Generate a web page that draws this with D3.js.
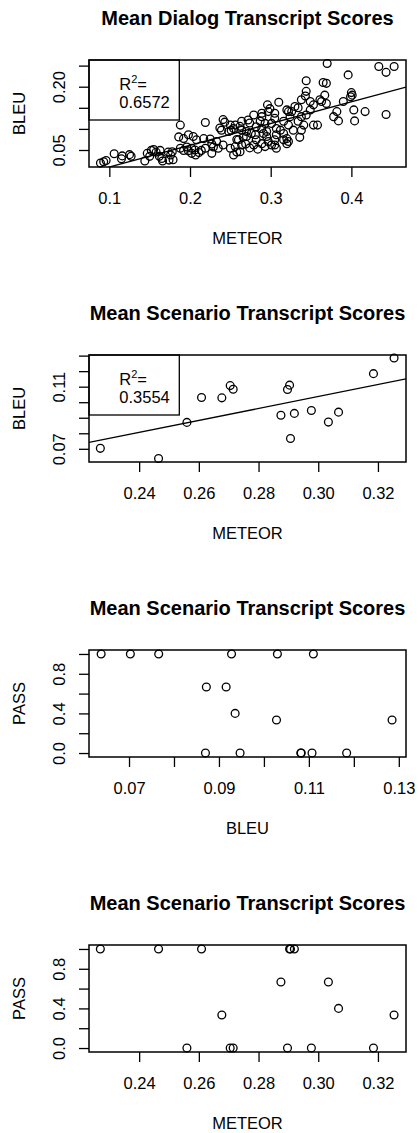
<!DOCTYPE html>
<html>
<head>
<meta charset="utf-8">
<script src="https://cdn.jsdelivr.net/npm/d3@7"></script>
<style>
  body { margin: 0; background: #fff; }
  text { font-family: "Liberation Sans", Arial, Helvetica, sans-serif; fill: #000; }
</style>
</head>
<body>
<div id="chart"></div>
<script>
// dialog means: [METEOR, BLEU]
const dialogPoints = [
  [0.089,0.019],[0.093,0.022],[0.096,0.025],[0.106,0.041],[0.115,0.029],[0.116,0.036],[0.125,0.039],[0.127,0.035],
  [0.144,0.024],[0.147,0.042],[0.150,0.035],[0.152,0.049],[0.155,0.051],[0.158,0.045],[0.162,0.035],[0.163,0.049],
  [0.165,0.030],[0.166,0.024],[0.173,0.045],[0.176,0.038],[0.174,0.026],[0.179,0.027],[0.178,0.046],
  [0.188,0.109],[0.186,0.081],[0.192,0.077],[0.198,0.086],[0.204,0.082],[0.208,0.074],[0.188,0.054],[0.192,0.049],
  [0.196,0.057],[0.198,0.048],[0.202,0.054],[0.202,0.042],[0.206,0.050],[0.207,0.038],[0.211,0.044],[0.214,0.049],
  [0.217,0.077],[0.219,0.054],[0.219,0.115],[0.225,0.076],[0.227,0.064],[0.229,0.057],[0.233,0.070],[0.235,0.054],
  [0.227,0.042],[0.241,0.062],[0.250,0.054],[0.256,0.058],[0.258,0.045],[0.254,0.038],[0.237,0.102],[0.239,0.097],
  [0.241,0.122],[0.243,0.116],[0.250,0.109],[0.254,0.101],[0.248,0.094],
  [0.262,0.106],[0.264,0.097],[0.260,0.074],[0.264,0.062],[0.262,0.046],[0.270,0.082],[0.274,0.114],[0.272,0.121],
  [0.279,0.133],[0.281,0.086],[0.282,0.074],[0.279,0.062],[0.289,0.129],[0.287,0.118],[0.293,0.113],[0.291,0.089],
  [0.295,0.082],[0.297,0.070],[0.301,0.062],[0.305,0.074],[0.307,0.086],[0.312,0.097],[0.316,0.089],[0.320,0.077],
  [0.322,0.070],[0.296,0.157],[0.299,0.148],[0.297,0.141],[0.305,0.137],[0.310,0.163],[0.320,0.145],[0.324,0.129],
  [0.316,0.118],[0.330,0.153],[0.322,0.141],[0.326,0.141],[0.322,0.109],[0.328,0.097],[0.305,0.125],[0.301,0.113],
  [0.307,0.101],[0.289,0.101],[0.295,0.094],[0.266,0.080],[0.258,0.075],[0.289,0.065],[0.293,0.058],[0.305,0.062],
  [0.307,0.054],[0.316,0.074],[0.320,0.065],[0.338,0.097],[0.336,0.080],[0.251,0.097],[0.256,0.109],[0.264,0.118],
  [0.270,0.094],[0.276,0.089],[0.289,0.137],[0.282,0.105],[0.284,0.052],[0.274,0.055],[0.269,0.064],
  [0.344,0.214],[0.365,0.210],[0.369,0.208],[0.370,0.255],[0.344,0.189],[0.367,0.180],[0.361,0.169],[0.363,0.165],
  [0.369,0.160],[0.338,0.169],[0.349,0.165],[0.353,0.157],[0.338,0.129],[0.334,0.118],[0.341,0.109],[0.353,0.109],
  [0.358,0.109],[0.349,0.145],[0.344,0.133],[0.382,0.141],[0.378,0.129],[0.384,0.119],[0.390,0.165],[0.396,0.228],
  [0.334,0.150],[0.343,0.178],
  [0.400,0.186],[0.401,0.180],[0.399,0.176],[0.403,0.145],[0.417,0.141],[0.404,0.119],[0.443,0.134],[0.434,0.248],
  [0.443,0.234],[0.453,0.248]
];

// scenario means
const scenarioMeteor = [0.2270, 0.2465, 0.2609, 0.2904, 0.2907, 0.2920, 0.2875, 0.3034, 0.2677,
                        0.3254, 0.3068, 0.2560, 0.2705, 0.2715, 0.2897, 0.2977, 0.3185];
const scenarioBleu   = [0.0703, 0.0638, 0.1030, 0.1110, 0.0766, 0.0928, 0.0916, 0.0872, 0.1028,
                        0.1285, 0.0936, 0.0870, 0.1107, 0.1083, 0.1082, 0.0947, 0.1184];
const scenarioPass   = [1, 1, 1, 1, 1, 1, 0.667, 0.667, 0.333, 0.333, 0.4, 0, 0, 0, 0, 0, 0];

// axis ranges and ticks
const dialogXDomain = [0.0748, 0.4677];
const dialogYDomain = [0.0097, 0.2633];
const scenMeteorDomain = [0.2232, 0.3294];
const scenBleuDomain = [0.0615, 0.1304];
const bleuXDomain = [0.0611, 0.1316];
const passDomain = [-0.04, 1.04];

const dialogXTicks = [0.1, 0.2, 0.3, 0.4];
const dialogXLabels = ["0.1", "0.2", "0.3", "0.4"];
const dialogYTicks = [0.05, 0.10, 0.15, 0.20, 0.25];
const dialogYLabels = ["0.05", "0.20"];
const meteorTicks = [0.24, 0.26, 0.28, 0.30, 0.32];
const meteorLabels = ["0.24", "0.26", "0.28", "0.30", "0.32"];
const bleuTicks = [0.07, 0.08, 0.09, 0.10, 0.11, 0.12, 0.13];
const bleuYLabels = ["0.07", "0.11"];
const bleuXLabels = ["0.07", "0.09", "0.11", "0.13"];
const passTicks = [0, 0.2, 0.4, 0.6, 0.8, 1.0];
const passLabels = ["0.0", "0.4", "0.8"];

// fitted lines [intercept, slope] and R squared
const dialogFit = [-0.0419, 0.5156];
const scenarioFit = [-0.0119, 0.3852];
const dialogR2 = "0.6572";
const scenarioR2 = "0.3554";

// layout
const W = 418, H = 1133;
const box = { left: 89, right: 406, height: 107, top0: 60, step: 295 };
const fontSize = 16.5;

const svg = d3.select("#chart").append("svg")
  .attr("width", W)
  .attr("height", H);
svg.append("rect").attr("width", W).attr("height", H).attr("fill", "#fff");

const panels = [
  { title: "Mean Dialog Transcript Scores", xLab: "METEOR", yLab: "BLEU",
    xs: dialogPoints.map(d => d[0]), ys: dialogPoints.map(d => d[1]),
    xDomain: dialogXDomain, yDomain: dialogYDomain,
    xTicks: dialogXTicks, xLabels: dialogXLabels, xFmt: ".1f",
    yTicks: dialogYTicks, yLabels: dialogYLabels, yFmt: ".2f",
    fit: dialogFit, r2: dialogR2 },
  { title: "Mean Scenario Transcript Scores", xLab: "METEOR", yLab: "BLEU",
    xs: scenarioMeteor, ys: scenarioBleu,
    xDomain: scenMeteorDomain, yDomain: scenBleuDomain,
    xTicks: meteorTicks, xLabels: meteorLabels, xFmt: ".2f",
    yTicks: bleuTicks, yLabels: bleuYLabels, yFmt: ".2f",
    fit: scenarioFit, r2: scenarioR2 },
  { title: "Mean Scenario Transcript Scores", xLab: "BLEU", yLab: "PASS",
    xs: scenarioBleu, ys: scenarioPass,
    xDomain: bleuXDomain, yDomain: passDomain,
    xTicks: bleuTicks, xLabels: bleuXLabels, xFmt: ".2f",
    yTicks: passTicks, yLabels: passLabels, yFmt: ".1f" },
  { title: "Mean Scenario Transcript Scores", xLab: "METEOR", yLab: "PASS",
    xs: scenarioMeteor, ys: scenarioPass,
    xDomain: scenMeteorDomain, yDomain: passDomain,
    xTicks: meteorTicks, xLabels: meteorLabels, xFmt: ".2f",
    yTicks: passTicks, yLabels: passLabels, yFmt: ".1f" }
];

panels.forEach(function(p, i) {
  const top = box.top0 + i * box.step;
  const g = svg.append("g").attr("transform", "translate(0," + top + ")");
  const cx = (box.left + box.right) / 2;

  const x = d3.scaleLinear().domain(p.xDomain).range([box.left, box.right]);
  const y = d3.scaleLinear().domain(p.yDomain).range([box.height, 0]);

  // title
  g.append("text")
    .attr("x", cx)
    .attr("y", -35.5)
    .attr("text-anchor", "middle")
    .attr("font-size", "20px")
    .attr("font-weight", "bold")
    .text(p.title);

  // x axis
  const xf = d3.format(p.xFmt);
  const xAxis = g.append("g")
    .attr("transform", "translate(0," + box.height + ")")
    .call(d3.axisBottom(x)
      .tickValues(p.xTicks)
      .tickSize(10)
      .tickSizeOuter(0)
      .tickFormat(d => p.xLabels.includes(xf(d)) ? xf(d) : ""));
  xAxis.select(".domain").remove();
  xAxis.selectAll(".tick line").attr("stroke", "#000").attr("stroke-width", 1.3);
  xAxis.selectAll(".tick text")
    .attr("y", 37).attr("dy", null)
    .attr("font-size", fontSize + "px")
    .attr("font-family", "Liberation Sans, Arial, sans-serif")
    .attr("fill", "#000");

  // y axis
  const yf = d3.format(p.yFmt);
  const yAxis = g.append("g")
    .attr("transform", "translate(" + box.left + ",0)")
    .call(d3.axisLeft(y)
      .tickValues(p.yTicks)
      .tickSize(10)
      .tickSizeOuter(0)
      .tickFormat(d => p.yLabels.includes(yf(d)) ? yf(d) : ""));
  yAxis.select(".domain").remove();
  yAxis.selectAll(".tick line").attr("stroke", "#000").attr("stroke-width", 1.3);
  yAxis.selectAll(".tick text")
    .attr("x", null).attr("dy", null)
    .attr("text-anchor", "middle")
    .attr("transform", "translate(-24,0) rotate(-90)")
    .attr("font-size", fontSize + "px")
    .attr("font-family", "Liberation Sans, Arial, sans-serif")
    .attr("fill", "#000");

  // axis titles
  g.append("text")
    .attr("x", cx)
    .attr("y", box.height + 77.3)
    .attr("text-anchor", "middle")
    .attr("font-size", fontSize + "px")
    .text(p.xLab);
  g.append("text")
    .attr("transform", "translate(25," + (box.height / 2) + ") rotate(-90)")
    .attr("text-anchor", "middle")
    .attr("font-size", fontSize + "px")
    .text(p.yLab);

  // clip for the fitted line
  const clipId = "clip" + i;
  g.append("clipPath").attr("id", clipId)
    .append("rect")
      .attr("x", box.left).attr("y", 0)
      .attr("width", box.right - box.left).attr("height", box.height);

  if (p.fit) {
    const fx = p.xDomain;
    g.append("line")
      .attr("clip-path", "url(#" + clipId + ")")
      .attr("x1", x(fx[0])).attr("y1", y(p.fit[0] + p.fit[1] * fx[0]))
      .attr("x2", x(fx[1])).attr("y2", y(p.fit[0] + p.fit[1] * fx[1]))
      .attr("stroke", "#000")
      .attr("stroke-width", 1.3);
  }

  // points
  g.append("g").selectAll("circle")
    .data(p.xs.map((v, k) => [v, p.ys[k]]))
    .enter().append("circle")
      .attr("cx", d => x(d[0]))
      .attr("cy", d => y(d[1]))
      .attr("r", 3.9)
      .attr("fill", "none")
      .attr("stroke", "#000")
      .attr("stroke-width", 1.3);

  // legend with R squared
  if (p.r2) {
    const lg = g.append("g").attr("transform", "translate(" + box.left + ",0)");
    lg.append("rect")
      .attr("width", 90.3).attr("height", 60)
      .attr("fill", "#fff").attr("stroke", "#000").attr("stroke-width", 1.3);
    const t = lg.append("text")
      .attr("x", 30.3).attr("y", 29.5)
      .attr("font-size", fontSize + "px");
    t.append("tspan").text("R");
    t.append("tspan").attr("font-size", "11px").attr("dy", -7).text("2");
    t.append("tspan").attr("dy", 7).text("=");
    lg.append("text")
      .attr("x", 30.3).attr("y", 48)
      .attr("font-size", fontSize + "px")
      .text(p.r2);
  }

  // plot box
  g.append("rect")
    .attr("x", box.left).attr("y", 0)
    .attr("width", box.right - box.left).attr("height", box.height)
    .attr("fill", "none")
    .attr("stroke", "#000")
    .attr("stroke-width", 1.5);
});
</script>
</body>
</html>
